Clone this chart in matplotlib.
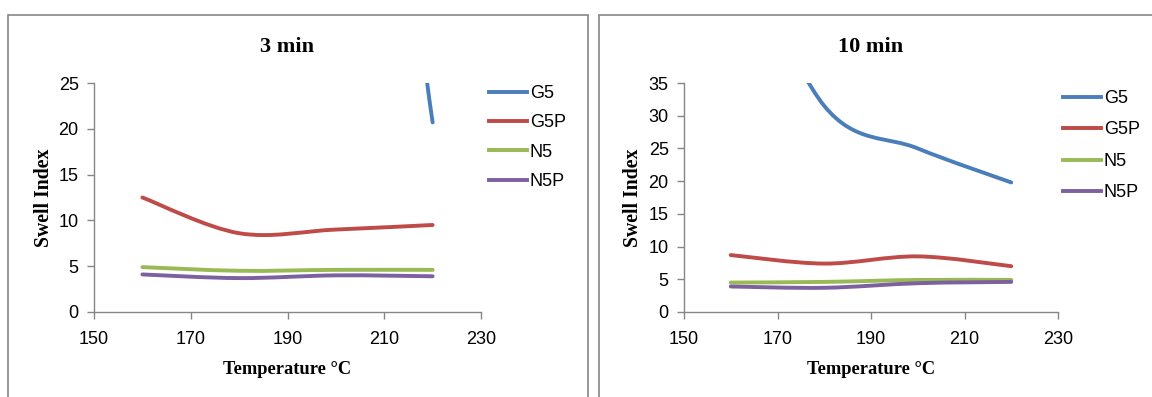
import matplotlib
matplotlib.use("Agg")
import matplotlib.pyplot as plt
from matplotlib.path import Path
from matplotlib.patches import PathPatch, Rectangle
from matplotlib.lines import Line2D

# temperatures (deg C)
temps = [160, 180, 200, 220]
series = ["G5", "G5P", "N5", "N5P"]
colors = ["#4A7EBB", "#BE4B48", "#98B954", "#7D60A0"]

# 3 min swell index
g5_3 = [110, 100, 92, 20.7]
g5p_3 = [12.5, 8.6, 9.0, 9.5]
n5_3 = [4.9, 4.5, 4.6, 4.6]
n5p_3 = [4.1, 3.7, 4.0, 3.9]

# 10 min swell index
g5_10 = [60, 31.5, 25, 19.8]
g5p_10 = [8.7, 7.4, 8.5, 7.0]
n5_10 = [4.5, 4.6, 4.9, 4.9]
n5p_10 = [3.9, 3.7, 4.4, 4.6]

SANS = ["Liberation Sans", "DejaVu Sans"]
SERIF = ["Liberation Serif", "DejaVu Serif"]
GRAY = "#868686"


def smooth_path(xs, ys):
    # excel style smoothed line -> cubic bezier segments
    pts = list(zip(xs, ys))
    n = len(pts)
    tang = []
    for i in range(n):
        a = pts[max(i - 1, 0)]
        b = pts[min(i + 1, n - 1)]
        tang.append(((b[0] - a[0]) / 2.0, (b[1] - a[1]) / 2.0))
    verts = [pts[0]]
    codes = [Path.MOVETO]
    for i in range(n - 1):
        p0, p1 = pts[i], pts[i + 1]
        c1 = (p0[0] + tang[i][0] / 3, p0[1] + tang[i][1] / 3)
        c2 = (p1[0] - tang[i + 1][0] / 3, p1[1] - tang[i + 1][1] / 3)
        verts += [c1, c2, p1]
        codes += [Path.CURVE4] * 3
    return Path(verts, codes)


def draw_panel(ax, title, data, ymax, ystep, leg_xy, leg_space, ylpad):
    for vals, c in zip(data, colors):
        ax.add_patch(PathPatch(smooth_path(temps, vals), facecolor="none",
                               edgecolor=c, lw=2.8, capstyle="round"))
    ax.set_xlim(150, 230)
    ax.set_ylim(0, ymax)
    ax.set_xticks(range(150, 231, 20))
    ax.set_yticks(range(0, ymax + 1, ystep))
    for s in ["top", "right"]:
        ax.spines[s].set_visible(False)
    for s in ["left", "bottom"]:
        ax.spines[s].set_color(GRAY)
        ax.spines[s].set_linewidth(1)
    ax.tick_params(colors=GRAY, length=5, width=1, labelcolor="black",
                   labelsize=13)
    for lab in ax.get_xticklabels() + ax.get_yticklabels():
        lab.set_family(SANS)
    ax.tick_params(axis="x", pad=9)
    ax.tick_params(axis="y", pad=6)
    ax.set_title(title, family=SERIF, fontweight="bold", fontsize=16, pad=22)
    ax.set_xlabel("Temperature \u00b0C", family=SERIF, fontweight="bold",
                  fontsize=13.3, labelpad=9)
    ax.set_ylabel("Swell Index", family=SERIF, fontweight="bold",
                  fontsize=14.2, labelpad=ylpad)
    handles = [Line2D([], [], color=c, lw=2.8) for c in colors]
    leg = ax.legend(handles, series, loc="upper left", bbox_to_anchor=leg_xy,
                    bbox_transform=fig.transFigure, frameon=False,
                    handlelength=2.1, handletextpad=0.15,
                    labelspacing=leg_space, borderpad=0,
                    prop={"family": SANS, "size": 13})
    return leg


fig = plt.figure(figsize=(11.52, 3.97), dpi=100)
W, H = 1152.0, 397.0

# panel frames
fig.patches.append(Rectangle((8 / W, -0.05), 580 / W, 1.05 - 15 / H,
                             transform=fig.transFigure, fill=False,
                             edgecolor=GRAY, lw=1.2))
fig.patches.append(Rectangle((599 / W, -0.05), 560 / W, 1.05 - 15 / H,
                             transform=fig.transFigure, fill=False,
                             edgecolor=GRAY, lw=1.2))

ax1 = fig.add_axes([94 / W, (H - 312) / H, 387 / W, 229 / H])
ax2 = fig.add_axes([684 / W, (H - 312) / H, 374 / W, 229 / H])

draw_panel(ax1, "3 min", [g5_3, g5p_3, n5_3, n5p_3], 25, 5,
           (480 / W, (H - 76) / H), 0.68, 3)
draw_panel(ax2, "10 min", [g5_10, g5p_10, n5_10, n5p_10], 35, 5,
           (1054 / W, (H - 81) / H), 0.8, 4)

fig.savefig("out.png", dpi=100)
